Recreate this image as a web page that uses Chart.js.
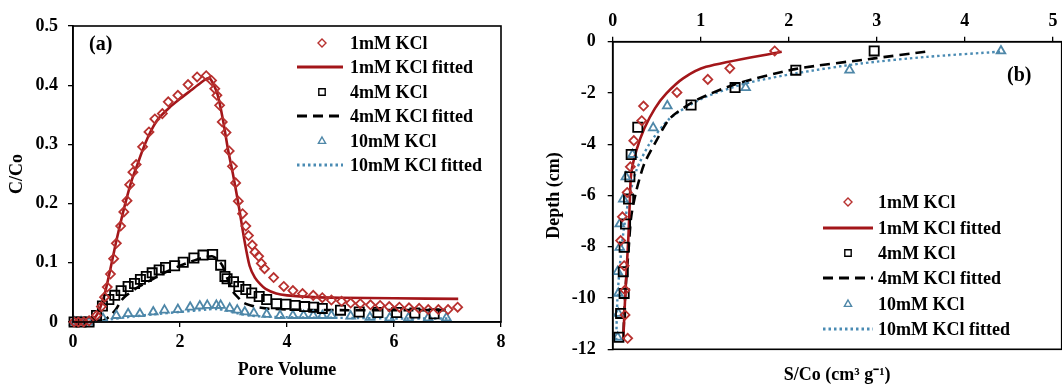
<!DOCTYPE html>
<html>
<head>
<meta charset="utf-8">
<script src="https://cdn.jsdelivr.net/npm/chart.js@4.4.1/dist/chart.umd.min.js"></script>
<style>
  html, body { margin: 0; padding: 0; background: #fff; width: 1062px; height: 387px; overflow: hidden; position: relative; }
  canvas { position: absolute; top: 0; }
  #cA { left: 0; }
  #cB { left: 530px; }
</style>
</head>
<body>
<canvas id="cA" width="530" height="387"></canvas>
<canvas id="cB" width="540" height="387"></canvas>
<script>
// ---------------- Panel (a): breakthrough curves ----------------
const pv1mM = [0.02,0.1,0.2,0.3,0.44,0.53,0.59,0.64,0.70,0.76,0.81,0.89,0.95,1.01,1.06,1.12,1.18,1.30,1.42,1.53,1.67,1.78,1.96,2.15,2.32,2.49,2.59,2.65,2.69,2.74,2.79,2.86,2.92,2.98,3.04,3.09,3.17,3.23,3.28,3.35,3.40,3.47,3.52,3.58,3.75,3.94,4.11,4.29,4.49,4.66,4.83,5.02,5.19,5.37,5.56,5.74,5.91,6.10,6.28,6.47,6.64,6.83,7.01,7.19];
const cc1mM = [0,0,0,0.002,0.011,0.026,0.042,0.059,0.081,0.107,0.133,0.162,0.186,0.205,0.232,0.253,0.266,0.296,0.321,0.343,0.352,0.372,0.383,0.401,0.414,0.416,0.408,0.394,0.383,0.366,0.338,0.320,0.289,0.263,0.235,0.204,0.183,0.162,0.146,0.130,0.118,0.111,0.099,0.090,0.075,0.060,0.053,0.048,0.045,0.041,0.037,0.035,0.032,0.031,0.029,0.028,0.026,0.025,0.024,0.023,0.021,0.021,0.021,0.025];
const pv1mMFit = [0,0.3,0.4,0.5,0.6,0.7,0.8,0.9,1.0,1.1,1.2,1.3,1.4,1.5,1.6,1.8,2.0,2.2,2.4,2.5,2.55,2.6,2.7,2.8,2.9,3.0,3.1,3.2,3.3,3.4,3.5,3.6,3.8,4.0,4.5,5.0,6.0,7.2];
const cc1mMFit = [0,0,0.006,0.022,0.05,0.09,0.133,0.172,0.208,0.24,0.265,0.29,0.312,0.33,0.344,0.362,0.377,0.391,0.405,0.411,0.412,0.406,0.385,0.343,0.29,0.245,0.195,0.14,0.095,0.075,0.064,0.056,0.048,0.045,0.042,0.041,0.04,0.039];
const pv4mM = [0.02,0.15,0.3,0.44,0.55,0.67,0.78,0.90,1.03,1.15,1.26,1.37,1.48,1.61,1.73,1.90,2.06,2.26,2.43,2.61,2.76,2.84,2.88,3.0,3.10,3.23,3.34,3.48,3.62,3.80,3.98,4.15,4.33,4.50,4.66,5.0,5.35,5.70,6.05,6.39,6.75];
const cc4mM = [0,0,0,0.011,0.027,0.038,0.045,0.053,0.060,0.065,0.072,0.077,0.083,0.088,0.092,0.095,0.101,0.108,0.113,0.114,0.096,0.077,0.073,0.068,0.060,0.055,0.049,0.043,0.038,0.031,0.030,0.028,0.026,0.025,0.023,0.020,0.017,0.016,0.016,0.015,0.014];
const pv4mMFit = [0.5,0.6,0.7,0.8,0.9,1.0,1.2,1.4,1.6,1.8,2.0,2.2,2.4,2.6,2.7,2.8,2.9,3.0,3.1,3.2,3.4,3.6,4.0,5.0,6.0,7.0];
const cc4mMFit = [0,0.004,0.011,0.021,0.036,0.045,0.058,0.068,0.078,0.087,0.095,0.102,0.108,0.111,0.106,0.094,0.07,0.05,0.04,0.032,0.026,0.023,0.021,0.02,0.02,0.02];
const pv10mM = [0.02,0.15,0.3,0.56,0.81,1.03,1.25,1.50,1.71,1.96,2.19,2.37,2.51,2.68,2.76,2.93,3.07,3.21,3.38,3.62,3.87,4.11,4.31,4.49,4.66,4.83,5.19,5.55,5.92,6.27,6.64,6.98];
const cc10mM = [0,0,0,0.006,0.011,0.014,0.014,0.017,0.020,0.021,0.025,0.027,0.028,0.028,0.028,0.023,0.020,0.017,0.015,0.013,0.011,0.011,0.011,0.011,0.011,0.011,0.010,0.008,0.007,0.007,0.007,0.007];
const pv10mMFit = [0.4,0.6,1.0,1.5,2.0,2.5,2.7,2.9,3.1,3.3,3.6,4.0,5.0,6.0,7.0];
const cc10mMFit = [0,0.003,0.008,0.013,0.017,0.021,0.022,0.019,0.014,0.011,0.009,0.008,0.007,0.006,0.006];

// ---------------- Panel (b): retention profiles ----------------
const sc1mM = [1.84,1.33,1.08,0.73,0.35,0.33,0.24,0.20,0.165,0.11,0.09,0.13,0.14,0.14,0.17];
const dp1mM = [-0.36,-1.04,-1.47,-1.98,-2.51,-3.08,-3.86,-4.88,-5.88,-6.83,-7.76,-8.74,-9.69,-10.66,-11.57];
const sc1mMFit = [1.92,1.06,0.80,0.61,0.48,0.36,0.27,0.21,0.195,0.18,0.16,0.14,0.12];
const dp1mMFit = [-0.39,-0.98,-1.43,-2.02,-2.60,-3.38,-4.23,-5.14,-6.18,-7.48,-8.78,-10.08,-11.64];
const sc4mM = [2.97,2.08,1.39,0.89,0.285,0.21,0.195,0.18,0.146,0.13,0.12,0.13,0.09,0.07];
const dp4mM = [-0.36,-1.11,-1.79,-2.47,-3.34,-4.40,-5.27,-6.14,-7.11,-8.02,-8.97,-9.82,-10.6,-11.53];
const sc4mMFit = [3.55,2.97,2.07,1.40,0.95,0.65,0.50,0.36,0.27,0.21,0.18,0.15,0.13,0.12];
const dp4mMFit = [-0.39,-0.65,-1.07,-1.65,-2.28,-2.99,-3.84,-4.75,-5.79,-6.83,-8.13,-9.43,-10.73,-11.64];
const sc10mM = [4.41,2.69,1.51,0.62,0.46,0.225,0.15,0.12,0.08,0.08,0.056,0.064,0.064,0.056];
const dp10mM = [-0.36,-1.11,-1.79,-2.50,-3.36,-4.40,-5.27,-6.14,-7.11,-8.02,-8.97,-9.82,-10.6,-11.53];
const sc10mMFit = [4.40,3.57,2.82,2.07,1.51,1.02,0.65,0.42,0.27,0.18,0.12,0.08,0.053,0.04];
const dp10mMFit = [-0.39,-0.59,-0.85,-1.24,-1.63,-2.21,-2.99,-3.97,-5.01,-6.18,-7.48,-8.78,-10.08,-11.64];

const seriesNames = ['1mM KCl','1mM KCl fitted','4mM KCl','4mM KCl fitted','10mM KCl','10mM KCl fitted'];
const ticksA_x = [0,2,4,6,8];
const ticksA_y = [0,0.1,0.2,0.3,0.4,0.5];
const ticksB_x = [0,1,2,3,4,5];
const ticksB_y = [0,-2,-4,-6,-8,-10,-12];

// ---------------- styling ----------------
const RED_PT = '#B8312F', RED_LN = '#A3161A', BLK = '#000000', BLU_PT = '#4E87A8', BLU_LN = '#4A8BB3';
const SERIF = "'Liberation Serif', 'Times New Roman', serif";
Chart.defaults.font.family = SERIF;
Chart.defaults.font.size = 18;
Chart.defaults.font.weight = 'bold';
Chart.defaults.color = '#000';

const zip = (xs, ys) => xs.map((x, i) => ({x: x, y: ys[i]}));

const styles = [
  {kind:'pt', pointStyle:'rectRot', radius:4.5, color:RED_PT},
  {kind:'ln', color:RED_LN, width:2.6, dash:[]},
  {kind:'pt', pointStyle:'rect', radius:6.5, color:BLK},
  {kind:'ln', color:BLK, width:2.6, dash:[10,6]},
  {kind:'pt', pointStyle:'triangle', radius:5, color:BLU_PT},
  {kind:'ln', color:BLU_LN, width:2.4, dash:[2.5,3]}
];

function makeDataset(i, data) {
  const s = styles[i];
  if (s.kind === 'pt') {
    return {label: seriesNames[i], data: data, showLine: false, pointStyle: s.pointStyle,
      pointRadius: s.radius, pointHoverRadius: s.radius, pointBorderColor: s.color,
      pointBackgroundColor: 'rgba(0,0,0,0)', pointBorderWidth: 1.8, clip: false, order: 1};
  }
  return {label: seriesNames[i], data: data, showLine: true, pointRadius: 0, borderColor: s.color,
    borderWidth: s.width, borderDash: s.dash, tension: 0.25, fill: false, order: 2};
}

function drawMarker(ctx, st, x, y, r) {
  ctx.save();
  ctx.strokeStyle = st.color; ctx.lineWidth = 1.4; ctx.beginPath();
  if (st.pointStyle === 'rectRot') {
    ctx.moveTo(x, y - r); ctx.lineTo(x + r, y); ctx.lineTo(x, y + r); ctx.lineTo(x - r, y); ctx.closePath();
  } else if (st.pointStyle === 'rect') {
    ctx.rect(x - r * 0.8, y - r * 0.8, r * 1.6, r * 1.6);
  } else {
    ctx.moveTo(x, y - r); ctx.lineTo(x + r * 0.9, y + r * 0.6); ctx.lineTo(x - r * 0.9, y + r * 0.6); ctx.closePath();
  }
  ctx.stroke(); ctx.restore();
}

const decorPlugin = {
  id: 'decor',
  afterDraw(chart, args, opts) {
    const ctx = chart.ctx, a = chart.chartArea;
    ctx.save();
    ctx.strokeStyle = '#000'; ctx.lineWidth = 1.6;
    ctx.strokeRect(a.left, a.top, a.right - a.left, a.bottom - a.top);
    // legend
    const L = opts.legend;
    ctx.font = 'bold 18px ' + SERIF;
    ctx.textBaseline = 'middle'; ctx.textAlign = 'left'; ctx.fillStyle = '#000';
    seriesNames.forEach((name, i) => {
      const y = L.rows[i], st = styles[i];
      if (st.kind === 'pt') {
        drawMarker(ctx, st, L.mx, y, 4);
      } else {
        ctx.save(); ctx.strokeStyle = st.color; ctx.lineWidth = st.width + 0.4; ctx.setLineDash(st.dash);
        ctx.beginPath(); ctx.moveTo(L.l0, y); ctx.lineTo(L.l1, y); ctx.stroke(); ctx.restore();
      }
      ctx.fillText(name, L.tx, y + 1);
    });
    // panel tag
    ctx.font = 'bold 20px ' + SERIF;
    ctx.fillText(opts.tag.text, opts.tag.x, opts.tag.y);
    ctx.restore();
  }
};

const tickGrid = {display: true, drawOnChartArea: false, drawTicks: true, tickLength: 5, color: '#000', lineWidth: 1.3};
const axBorder = {display: true, color: '#000', width: 1.6};

// Chart (a)
new Chart(document.getElementById('cA'), {
  type: 'scatter',
  data: { datasets: [
    makeDataset(0, zip(pv1mM, cc1mM)),
    makeDataset(1, zip(pv1mMFit, cc1mMFit)),
    makeDataset(2, zip(pv4mM, cc4mM)),
    makeDataset(3, zip(pv4mMFit, cc4mMFit)),
    makeDataset(4, zip(pv10mM, cc10mM)),
    makeDataset(5, zip(pv10mMFit, cc10mMFit))
  ]},
  options: {
    responsive: false, animation: false, devicePixelRatio: 1,
    layout: {padding: {left: 0, top: 26, right: 29, bottom: 0}},
    plugins: {legend: {display: false}, tooltip: {enabled: false},
      decor: {legend: {mx: 322, l0: 297, l1: 343, tx: 350, rows: [43, 67, 92, 116, 141, 165]},
              tag: {text: '(a)', x: 89, y: 45}}},
    scales: {
      x: {type: 'linear', position: 'bottom', min: 0, max: 8,
        afterBuildTicks: s => { s.ticks = ticksA_x.map(v => ({value: v})); },
        afterFit: s => { s.height = 65; },
        ticks: {padding: 5, maxRotation: 0},
        grid: tickGrid, border: axBorder,
        title: {display: true, text: 'Pore Volume', padding: {top: 0, bottom: 6}}},
      y: {type: 'linear', position: 'left', min: 0, max: 0.5,
        afterBuildTicks: s => { s.ticks = ticksA_y.map(v => ({value: v})); },
        afterFit: s => { s.width = 73; },
        ticks: {padding: 10},
        grid: tickGrid, border: axBorder,
        title: {display: true, text: 'C/Co', padding: {top: 7, bottom: 0}}}
    }
  },
  plugins: [decorPlugin]
});

// Chart (b)
new Chart(document.getElementById('cB'), {
  type: 'scatter',
  data: { datasets: [
    makeDataset(0, zip(sc1mM, dp1mM)),
    makeDataset(1, zip(sc1mMFit, dp1mMFit)),
    makeDataset(2, zip(sc4mM, dp4mM)),
    makeDataset(3, zip(sc4mMFit, dp4mMFit)),
    makeDataset(4, zip(sc10mM, dp10mM)),
    makeDataset(5, zip(sc10mMFit, dp10mMFit))
  ]},
  options: {
    responsive: false, animation: false, devicePixelRatio: 1,
    layout: {padding: {left: 0, top: 0, right: 5.4, bottom: 0}},
    plugins: {legend: {display: false}, tooltip: {enabled: false},
      decor: {legend: {mx: 318, l0: 293, l1: 343, tx: 348, rows: [202, 228, 253, 278, 304, 329]},
              tag: {text: '(b)', x: 477, y: 76}}},
    scales: {
      x: {type: 'linear', position: 'top', min: 0, max: 5.1,
        afterBuildTicks: s => { s.ticks = ticksB_x.map(v => ({value: v})); },
        afterFit: s => { s.height = 41.7; },
        ticks: {padding: 5, maxRotation: 0},
        grid: tickGrid, border: axBorder},
      xb: {type: 'linear', position: 'bottom', min: 0, max: 5.1,
        afterFit: s => { s.height = 37.7; },
        ticks: {display: false}, grid: {display: false}, border: {display: false},
        title: {display: true, text: 'S/Co (cm³ g⁻¹)', padding: {top: 0, bottom: 1}}},
      y: {type: 'linear', position: 'left', min: -12, max: 0,
        afterBuildTicks: s => { s.ticks = ticksB_y.slice().reverse().map(v => ({value: v})); },
        afterFit: s => { s.width = 82.7; },
        ticks: {padding: 12},
        grid: tickGrid, border: axBorder,
        title: {display: true, text: 'Depth (cm)', padding: {top: 14, bottom: 0}}}
    }
  },
  plugins: [decorPlugin]
});
</script>
</body>
</html>
